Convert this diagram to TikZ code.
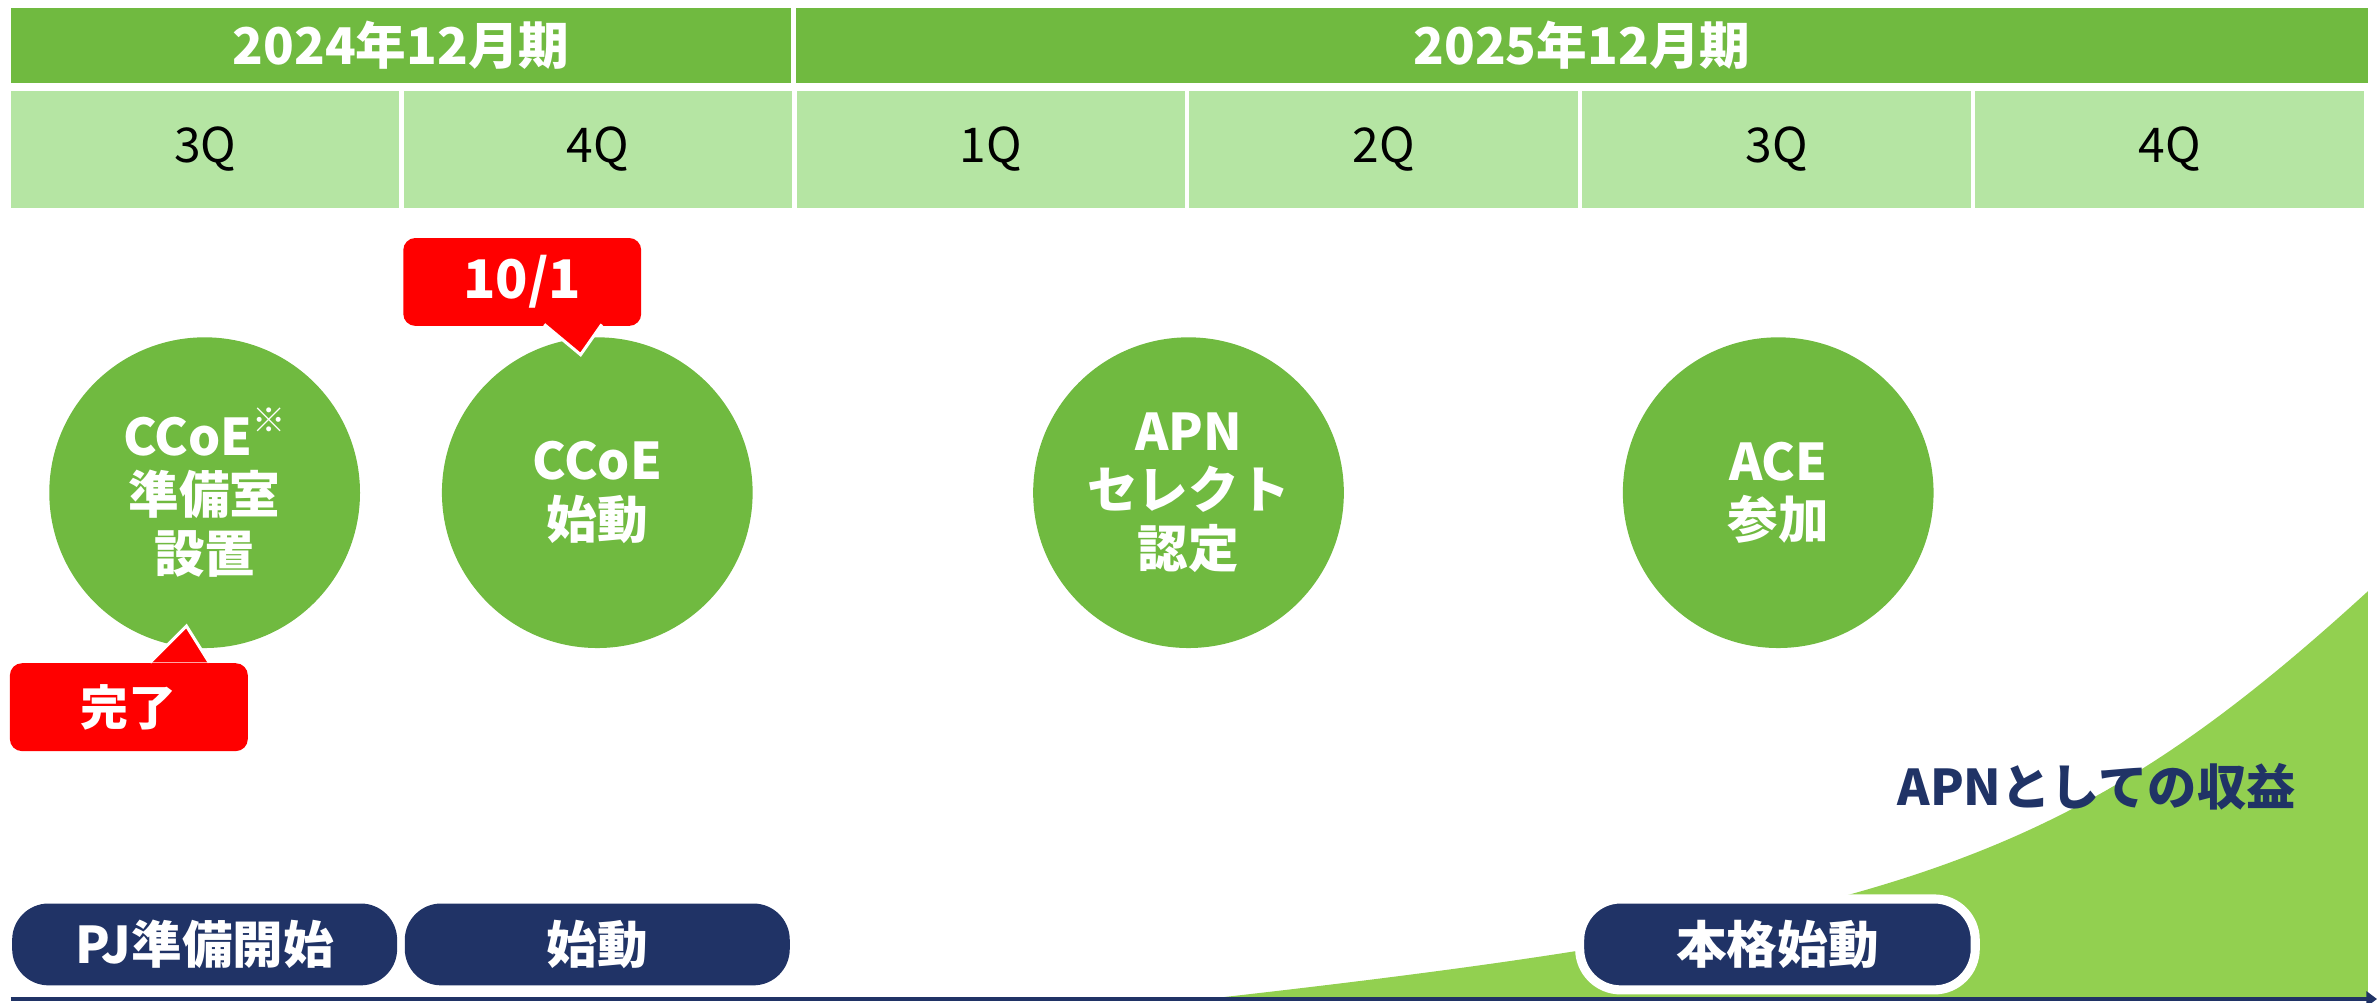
\documentclass[tikz,border=0pt]{standalone}
\usepackage{fontspec}
\setmainfont{Noto Sans CJK JP}
\usetikzlibrary{arrows.meta}

\definecolor{headgreen}{HTML}{70BA40}
\definecolor{cellgreen}{HTML}{B5E5A3}
\definecolor{areagreen}{HTML}{92D050}
\definecolor{navy}{HTML}{203366}
\definecolor{alertred}{HTML}{FF0000}

\begin{document}
\begin{tikzpicture}[x = 0.02cm, y = -0.02cm,
	yearcell/.style = {fill = headgreen, minimum height = 1cm, inner sep = 0pt, text = white, font = \fontsize{19}{22}\selectfont\bfseries},
	quartercell/.style = {fill = cellgreen, minimum width = 5.13cm, minimum height = 1.54cm, inner sep = 0pt, font = \fontsize{18}{20}\selectfont},
	milestone/.style = {circle, fill = headgreen, minimum size = 4.1cm, inner sep = 0pt, align = center, text = white, font = \fontsize{19}{22}\selectfont\bfseries},
	flag/.style = {fill = alertred, rounded corners = 0.16cm, minimum width = 3.14cm, minimum height = 1.16cm, text = white, font = \fontsize{18}{20}\selectfont\bfseries},
	phase/.style = {fill = navy, rounded corners = 0.48cm, minimum width = 5.08cm, minimum height = 1.08cm, text = white, font = \fontsize{19}{22}\selectfont\bfseries},
	revenue/.style = {text = navy, font = \fontsize{18.5}{22}\selectfont\bfseries}
]
\useasboundingbox (0, 0) rectangle (1568, 661);
% Fiscal years
\node[yearcell, minimum width = 10.3cm] (fy24) at (264.5, 30) {2024年12月期};
\node[yearcell, minimum width = 20.74cm] (fy25) at (1043.5, 30) {2025年12月期};
% Quarters
\foreach \q [count = \i from 0] in {3Q, 4Q, 1Q, 2Q, 3Q, 4Q}
	\node[quartercell] (q\i) at ({135.3 + 259.17*\i}, 98.5) {\q};
% Revenue area
\fill[areagreen] (796, 659) .. controls (1250, 608) and (1365, 570) .. (1562, 390) -- (1562, 659) -- cycle;
% Time axis
\coordinate (axisstart) at (7, 659);
\coordinate (axisend) at (1568, 659);
\draw[navy, line width = 0.054cm, -{Triangle[length = 0.14cm, width = 0.2cm]}] (axisstart) -- (axisend);
% Milestones
\node[milestone] (prep) at (135, 325) {CCoE\raisebox{0.45em}{\fontsize{12.5}{12.5}\selectfont ※}\\準備室\\設置};
\node[milestone] (launch) at (394, 325) {CCoE\\始動};
\node[milestone] (select) at (784, 325) {APN\\セレクト\\認定};
\node[milestone] (ace) at (1173, 325) {ACE\\参加};
% Flags
\node[flag, font = \fontsize{20}{22}\selectfont\bfseries] (date) at (344.5, 186) {10/1};
\filldraw[fill = alertred, draw = white, line width = 0.04cm] (359, 214) -- (383, 234) -- (397, 214);
\node[flag] (done) at (85, 466.5) {完了};
\filldraw[fill = alertred, draw = white, line width = 0.04cm] (99, 437) -- (123, 413) -- (138, 437);
% Phases
\node[phase] (pjprep) at (135, 623) {PJ準備開始};
\node[phase] (start) at (394, 623) {始動};
\node[phase, draw = white, line width = 0.12cm, minimum width = 5.22cm, minimum height = 1.2cm, rounded corners = 0.54cm] (fullstart) at (1172.5, 623) {本格始動};
% Revenue label
\node[revenue] (income) at (1383, 519) {APNとしての収益};
\end{tikzpicture}
\end{document}
